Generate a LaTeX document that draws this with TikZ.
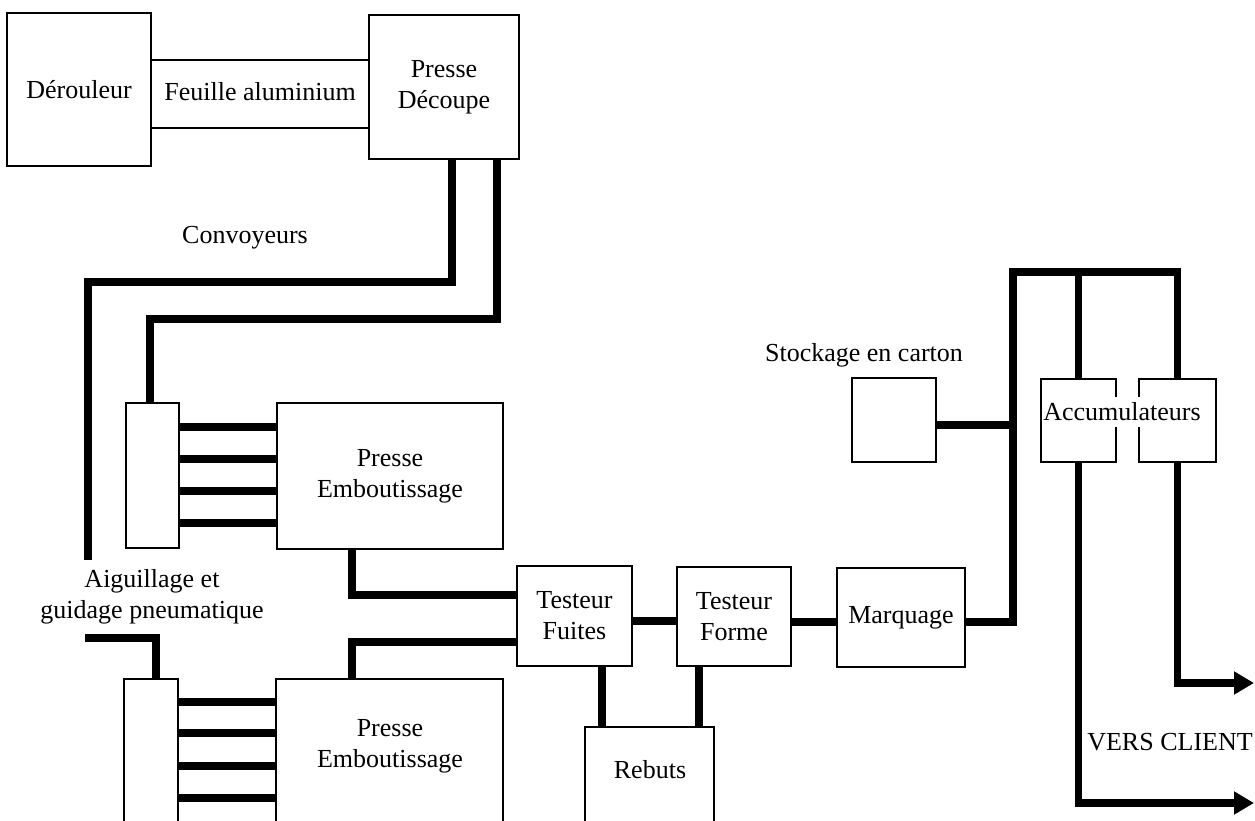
\documentclass[tikz,border=0pt]{standalone}
\usepackage{fontspec}
\setmainfont{Liberation Serif}
\usetikzlibrary{arrows.meta}
\begin{document}
\begin{tikzpicture}[x=1pt,y=-1pt,
  box/.style={draw, line width=1.3pt, inner sep=0pt, outer sep=0pt, align=center},
  lbl/.style={inner sep=0pt, align=center},
  conv/.style={line width=7.5pt, line join=miter},
  thinline/.style={line width=1.3pt},
  tip/.style={-{Triangle[length=20pt,width=22pt]}},
  font=\fontsize{26}{31}\selectfont]
\useasboundingbox (0,0) rectangle (1255,820);

% boxes
\node[box, minimum width=144pt, minimum height=153pt] (der) at (79,89.5) {Dérouleur};
\node[box, minimum width=150pt, minimum height=144pt] (pd) at (444,87) {Presse\\Découpe};
\node[box, minimum width=53pt, minimum height=145pt] (sb1) at (152.5,475.5) {};
\node[box, minimum width=226pt, minimum height=146pt] (pe1) at (390,476) {Presse\\Emboutissage};
\node[box, minimum width=54pt, minimum height=161pt] (sb2) at (151,759.5) {};
\node[box, minimum width=227pt, minimum height=161pt] (pe2) at (389.5,759.5) {};
\node[lbl] (pe2t) at (390,746) {Presse\\Emboutissage};
\node[box, minimum width=115pt, minimum height=100pt] (tf) at (574.5,616) {Testeur\\Fuites};
\node[box, minimum width=114pt, minimum height=99pt] (tfo) at (734,616.5) {Testeur\\Forme};
\node[box, minimum width=128pt, minimum height=99pt] (marq) at (901,617.5) {Marquage};
\node[box, minimum width=129pt, minimum height=113pt] (reb) at (649.5,783.5) {};
\node[lbl] (rebt) at (650,770) {Rebuts};
\node[box, minimum width=84pt, minimum height=84pt] (stock) at (894,420) {};
\node[box, minimum width=75pt, minimum height=83pt] (acc1) at (1078.5,420.5) {};
\node[box, minimum width=77pt, minimum height=83pt] (acc2) at (1177.5,420.5) {};

% labels
\node[lbl] (feuille) at (260,92) {Feuille aluminium};
\node[lbl] (convt) at (245,238) {Convoyeurs};
\node[lbl] (aig) at (152,597) {Aiguillage et\\guidage pneumatique};
\node[lbl] (stockt) at (864,355) {Stockage en carton};
\node[lbl] (vers) at (1170,742) {VERS CLIENT};

% aluminium sheet
\draw[thinline] (der.east |- 0,60) -- (pd.west |- 0,60);
\draw[thinline] (der.east |- 0,128) -- (pd.west |- 0,128);

% convoyeurs from Presse Decoupe
\coordinate (aigtop) at (88,560);
\coordinate (aigbot) at (85,638);
\draw[conv] (pd.south -| 452,0) -- (452,282) -- (88,282) -- (aigtop);
\draw[conv] (pd.south -| 497,0) -- (497,319) -- (150,319) -- (sb1.north -| 150,0);
\draw[conv] (aigbot) -- (156,638) -- (sb2.north -| 156,0);

% feeders
\foreach \yy in {427,459,491,523} {
  \draw[conv] (sb1.east |- 0,\yy) -- (pe1.west |- 0,\yy);
}
\foreach \yy in {702,733,766,798} {
  \draw[conv] (sb2.east |- 0,\yy) -- (pe2.west |- 0,\yy);
}

% to testeur fuites
\draw[conv] (pe1.south -| 352,0) -- (352,595) -- (tf.west |- 0,595);
\draw[conv] (tf.west |- 0,642) -- (352,642) -- (pe2.north -| 352,0);

% line
\draw[conv] (tf.east |- 0,621) -- (tfo.west |- 0,621);
\draw[conv] (tfo.east |- 0,622) -- (marq.west |- 0,622);
\draw[conv] (tf.south -| 602,0) -- (reb.north -| 602,0);
\draw[conv] (tfo.south -| 699,0) -- (reb.north -| 699,0);

% to accumulators
\draw[conv] (marq.east |- 0,622) -- (1013,622) -- (1013,272) -- (1177.5,272) -- (acc2.north);
\draw[conv] (1078.5,272) -- (acc1.north);
\draw[conv] (stock.east |- 0,425) -- (1013,425);

% to client
\draw[conv, tip] (acc1.south) -- (1078.5,803) -- (1254,803);
\draw[conv, tip] (acc2.south) -- (1177.5,683) -- (1254,683);

% accumulators label over boxes
\node[lbl, fill=white, inner ysep=6pt] (acct) at (1122,412) {Accumulateurs};
\end{tikzpicture}
\end{document}
